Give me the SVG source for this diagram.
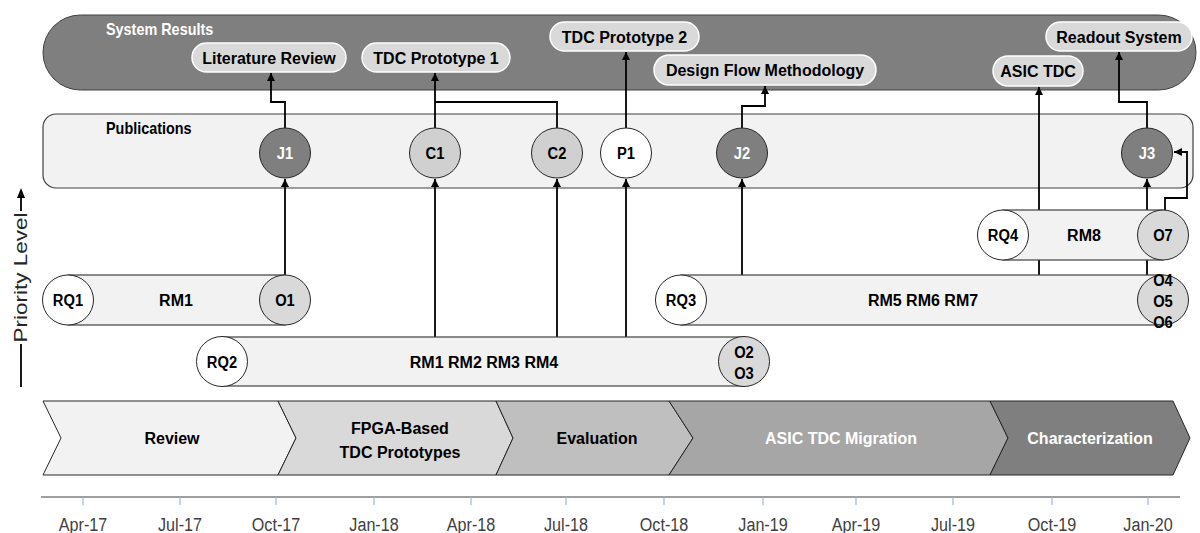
<svg xmlns="http://www.w3.org/2000/svg" width="1200" height="533" viewBox="0 0 1200 533">
  <style>
    .b { font-family: "Liberation Sans", Arial, sans-serif; font-weight: bold; font-size: 16px; fill: #000; }
    .lbl { font-family: "Liberation Sans", Arial, sans-serif; font-weight: bold; font-size: 16px; text-anchor: middle; }
    .w { fill: #fff; }
    .k { fill: #000; }
    .pill { fill: #d9d9d9; stroke: #ffffff; stroke-width: 1.5; }
    .bar { fill: #f2f2f2; stroke: #404040; stroke-width: 1.2; }
    .node { stroke: #262626; stroke-width: 1; }
    .wire { fill: none; stroke: #000; stroke-width: 1.8; }
    .chev { stroke: #262626; stroke-width: 1; }
    .tick { stroke: #9cb6d3; stroke-width: 1.2; }
    .date { font-family: "Liberation Sans", Arial, sans-serif; font-size: 19px; fill: #404040; text-anchor: middle; }
  </style>
  <defs>
    <marker id="arrow" markerUnits="userSpaceOnUse" markerWidth="9" markerHeight="8" refX="8" refY="4" orient="auto">
      <path d="M0,0 L8,4 L0,8 z" fill="#000"/>
    </marker>
  </defs>

  <rect width="1200" height="533" fill="#fff"/>

  <!-- System results band -->
  <g id="system-results">
    <rect x="43" y="15" width="1153" height="75" rx="37.5" ry="37.5" fill="#7f7f7f" stroke="#404040" stroke-width="1"/>
    <text transform="translate(106,35) scale(0.9,1)" class="b w">System Results</text>
  </g>

  <!-- Publications band -->
  <g id="publications">
    <rect x="43" y="114" width="1150" height="74" rx="13" fill="#f2f2f2" stroke="#404040" stroke-width="1.2"/>
    <text transform="translate(106,134) scale(0.9,1)" class="b">Publications</text>
  </g>

  <!-- Result pills -->
  <g id="res-literature-review">
    <rect x="192" y="43" width="154" height="29" rx="14.5" class="pill"/>
    <text x="269" y="63.5" class="b" text-anchor="middle">Literature Review</text>
  </g>
  <g id="res-tdc-prototype-1">
    <rect x="362" y="43" width="148" height="29" rx="14.5" class="pill"/>
    <text x="436" y="63.5" class="b" text-anchor="middle">TDC Prototype 1</text>
  </g>
  <g id="res-tdc-prototype-2">
    <rect x="550" y="22" width="149" height="29" rx="14.5" class="pill"/>
    <text x="624.5" y="42.5" class="b" text-anchor="middle">TDC Prototype 2</text>
  </g>
  <g id="res-design-flow">
    <rect x="654" y="55" width="222" height="30" rx="15" class="pill"/>
    <text x="765" y="76" class="b" text-anchor="middle">Design Flow Methodology</text>
  </g>
  <g id="res-asic-tdc">
    <rect x="993" y="56" width="90" height="30" rx="15" class="pill"/>
    <text x="1038" y="77" class="b" text-anchor="middle">ASIC TDC</text>
  </g>
  <g id="res-readout-system">
    <rect x="1046" y="22" width="146" height="29" rx="14.5" class="pill"/>
    <text x="1119" y="42.5" class="b" text-anchor="middle">Readout System</text>
  </g>

  <!-- Connectors -->
  <g id="connectors" class="wire">
    <path d="M285,128 V102 H271 V73" marker-end="url(#arrow)"/>
    <path d="M435,128 V73" marker-end="url(#arrow)"/>
    <path d="M557,128 V102 H435"/>
    <path d="M626,128 V52" marker-end="url(#arrow)"/>
    <path d="M742,128 V106 H765 V86" marker-end="url(#arrow)"/>
    <path d="M1147,128 V102 H1119 V52" marker-end="url(#arrow)"/>
    <path d="M1039,275 V87" marker-end="url(#arrow)"/>
    <path d="M285,275 V179" marker-end="url(#arrow)"/>
    <path d="M435,337 V179" marker-end="url(#arrow)"/>
    <path d="M557,337 V179" marker-end="url(#arrow)"/>
    <path d="M626,337 V179" marker-end="url(#arrow)"/>
    <path d="M742,275 V179" marker-end="url(#arrow)"/>
    <path d="M1147,275 V179" marker-end="url(#arrow)"/>
    <path d="M1165,210 V198 H1187 V152 H1174" marker-end="url(#arrow)"/>
  </g>

  <!-- Publication nodes -->
  <g id="pub-j1">
    <ellipse cx="285" cy="153" rx="25.5" ry="25" fill="#7f7f7f" class="node"/>
    <text transform="translate(285,159) scale(0.92,1)" class="lbl w">J1</text>
  </g>
  <g id="pub-c1">
    <ellipse cx="435" cy="153" rx="25.5" ry="25" fill="#d0d0d0" class="node"/>
    <text transform="translate(435,159) scale(0.92,1)" class="lbl k">C1</text>
  </g>
  <g id="pub-c2">
    <ellipse cx="557" cy="153" rx="25.5" ry="25" fill="#d0d0d0" class="node"/>
    <text transform="translate(557,159) scale(0.92,1)" class="lbl k">C2</text>
  </g>
  <g id="pub-p1">
    <ellipse cx="626" cy="153" rx="25.5" ry="25" fill="#ffffff" class="node"/>
    <text transform="translate(626,159) scale(0.92,1)" class="lbl k">P1</text>
  </g>
  <g id="pub-j2">
    <ellipse cx="742" cy="153" rx="25.5" ry="25" fill="#7f7f7f" class="node"/>
    <text transform="translate(742,159) scale(0.92,1)" class="lbl w">J2</text>
  </g>
  <g id="pub-j3">
    <ellipse cx="1147" cy="153" rx="25.5" ry="25" fill="#7f7f7f" class="node"/>
    <text transform="translate(1147,159) scale(0.92,1)" class="lbl w">J3</text>
  </g>

  <!-- Research lanes -->
  <g id="lane-rq4">
    <rect x="1003" y="210" width="160" height="50" class="bar"/>
    <ellipse cx="1003" cy="235" rx="25.5" ry="25" fill="#fff" class="node"/>
    <ellipse cx="1163" cy="235" rx="25.5" ry="25" fill="#d9d9d9" class="node"/>
    <text transform="translate(1003,241) scale(0.92,1)" class="lbl k">RQ4</text>
    <text x="1084" y="241" class="b" text-anchor="middle">RM8</text>
    <text transform="translate(1163,241) scale(0.92,1)" class="lbl k">O7</text>
  </g>
  <g id="lane-rq1">
    <rect x="68" y="275" width="217" height="50" class="bar"/>
    <ellipse cx="68" cy="300" rx="25.5" ry="25" fill="#fff" class="node"/>
    <ellipse cx="285" cy="300" rx="25.5" ry="25" fill="#d9d9d9" class="node"/>
    <text transform="translate(68,306) scale(0.92,1)" class="lbl k">RQ1</text>
    <text x="176" y="306" class="b" text-anchor="middle">RM1</text>
    <text transform="translate(285,306) scale(0.92,1)" class="lbl k">O1</text>
  </g>
  <g id="lane-rq3">
    <rect x="681" y="275" width="482" height="50" class="bar"/>
    <ellipse cx="681" cy="300" rx="25.5" ry="25" fill="#fff" class="node"/>
    <ellipse cx="1163" cy="300" rx="25.5" ry="25" fill="#d9d9d9" class="node"/>
    <text transform="translate(681,306) scale(0.92,1)" class="lbl k">RQ3</text>
    <text x="923" y="306" class="b" text-anchor="middle">RM5 RM6 RM7</text>
    <text transform="translate(1163,285.5) scale(0.92,1)" class="lbl k">O4</text>
    <text transform="translate(1163,306.5) scale(0.92,1)" class="lbl k">O5</text>
    <text transform="translate(1163,327.5) scale(0.92,1)" class="lbl k">O6</text>
  </g>
  <g id="lane-rq2">
    <rect x="222" y="337" width="522" height="49" class="bar"/>
    <ellipse cx="222" cy="361.5" rx="25.5" ry="25" fill="#fff" class="node"/>
    <ellipse cx="744" cy="361.5" rx="25.5" ry="25" fill="#d9d9d9" class="node"/>
    <text transform="translate(222,367.5) scale(0.92,1)" class="lbl k">RQ2</text>
    <text x="484" y="367.5" class="b" text-anchor="middle">RM1 RM2 RM3 RM4</text>
    <text transform="translate(744,357.5) scale(0.92,1)" class="lbl k">O2</text>
    <text transform="translate(744,378.5) scale(0.92,1)" class="lbl k">O3</text>
  </g>

  <!-- Priority axis -->
  <g id="priority-axis">
    <line x1="21" y1="196" x2="21" y2="211" stroke="#000" stroke-width="1.8"/>
    <path d="M17,198 L21,188 L25,198 z" fill="#000"/>
    <line x1="21" y1="344" x2="21" y2="387" stroke="#000" stroke-width="1.8"/>
    <text transform="translate(27,277.5) rotate(-90)" text-anchor="middle" textLength="130" lengthAdjust="spacingAndGlyphs" style="font-family:'Liberation Sans', Arial, sans-serif; font-size:18px; fill:#262626">Priority Level</text>
  </g>

  <!-- Project phases -->
  <g id="phase-review">
    <polygon points="43,401 278,401 296,438 278,475 43,475 61,438" fill="#f2f2f2" class="chev"/>
    <text x="172" y="444" class="b" text-anchor="middle">Review</text>
  </g>
  <g id="phase-fpga">
    <polygon points="278,401 496,401 513,438 496,475 278,475 296,438" fill="#d9d9d9" class="chev"/>
    <text x="400" y="434" class="b" text-anchor="middle">FPGA-Based</text>
    <text x="400" y="458" class="b" text-anchor="middle">TDC Prototypes</text>
  </g>
  <g id="phase-evaluation">
    <polygon points="496,401 669,401 693,438 669,475 496,475 513,438" fill="#bfbfbf" class="chev"/>
    <text x="597" y="444" class="b" text-anchor="middle">Evaluation</text>
  </g>
  <g id="phase-asic">
    <polygon points="669,401 990,401 1008,438 990,475 669,475 693,438" fill="#a6a6a6" class="chev"/>
    <text x="841" y="444" class="b w" text-anchor="middle">ASIC TDC Migration</text>
  </g>
  <g id="phase-characterization">
    <polygon points="990,401 1173,401 1190,438 1173,475 990,475 1008,438" fill="#7f7f7f" class="chev"/>
    <text x="1090" y="444" class="b w" text-anchor="middle">Characterization</text>
  </g>

  <!-- Time axis -->
  <g id="time-axis">
    <line x1="41" y1="497" x2="1180" y2="497" stroke="#404040" stroke-width="1.2"/>
    <g class="tick">
      <line x1="83" y1="497" x2="83" y2="505"/>
      <line x1="180" y1="497" x2="180" y2="505"/>
      <line x1="276" y1="497" x2="276" y2="505"/>
      <line x1="374" y1="497" x2="374" y2="505"/>
      <line x1="471" y1="497" x2="471" y2="505"/>
      <line x1="566" y1="497" x2="566" y2="505"/>
      <line x1="664" y1="497" x2="664" y2="505"/>
      <line x1="763" y1="497" x2="763" y2="505"/>
      <line x1="856" y1="497" x2="856" y2="505"/>
      <line x1="953" y1="497" x2="953" y2="505"/>
      <line x1="1052" y1="497" x2="1052" y2="505"/>
      <line x1="1148" y1="497" x2="1148" y2="505"/>
    </g>
    <!-- condensed date labels -->
    <text transform="translate(83,531) scale(0.85,1)" class="date">Apr-17</text>
    <text transform="translate(180,531) scale(0.85,1)" class="date">Jul-17</text>
    <text transform="translate(276,531) scale(0.85,1)" class="date">Oct-17</text>
    <text transform="translate(374,531) scale(0.85,1)" class="date">Jan-18</text>
    <text transform="translate(471,531) scale(0.85,1)" class="date">Apr-18</text>
    <text transform="translate(566,531) scale(0.85,1)" class="date">Jul-18</text>
    <text transform="translate(664,531) scale(0.85,1)" class="date">Oct-18</text>
    <text transform="translate(763,531) scale(0.85,1)" class="date">Jan-19</text>
    <text transform="translate(856,531) scale(0.85,1)" class="date">Apr-19</text>
    <text transform="translate(953,531) scale(0.85,1)" class="date">Jul-19</text>
    <text transform="translate(1052,531) scale(0.85,1)" class="date">Oct-19</text>
    <text transform="translate(1148,531) scale(0.85,1)" class="date">Jan-20</text>
  </g>
</svg>
